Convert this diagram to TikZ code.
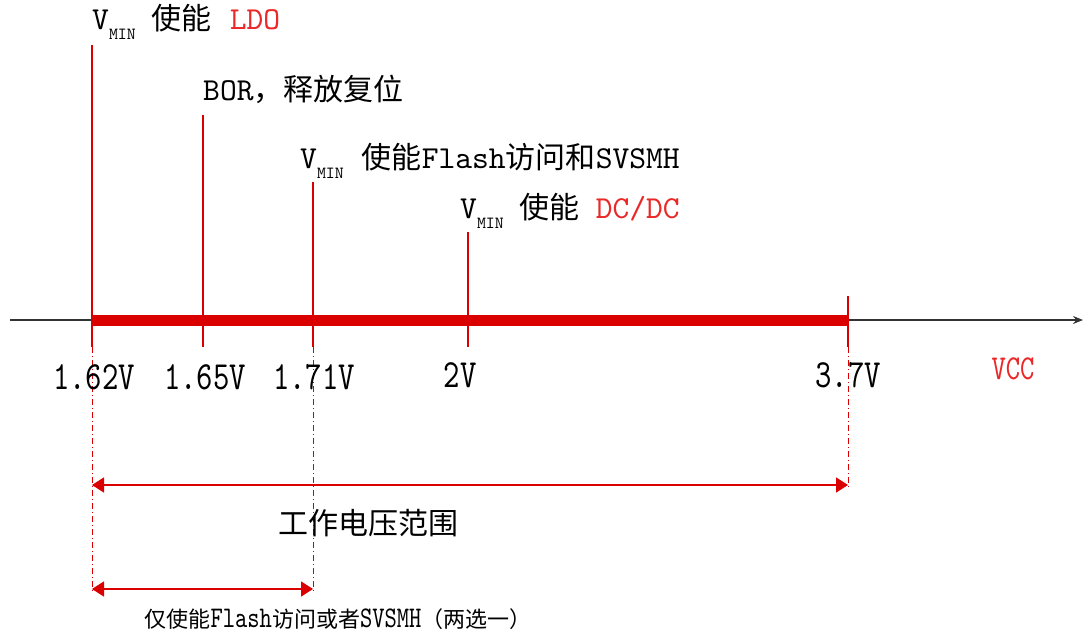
\documentclass[tikz,border=0pt]{standalone}
\usepackage{fontspec}
\setmainfont{lmmono10-regular.otf}
\newfontfamily\narrowfont{lmmono10-regular.otf}[FakeStretch=0.78]
\newfontfamily\cjk{Noto Sans CJK SC}
\usetikzlibrary{arrows.meta}

\definecolor{barred}{RGB}{218,0,0}
\definecolor{txtred}{RGB}{235,40,40}
\newcommand{\vminlabel}{V\raisebox{-10pt}{\fontsize{17}{17}\selectfont MIN}}

\tikzset{
  tickline/.style={barred, line width=2pt},
  guideline/.style={barred, line width=1pt, dash pattern=on 6pt off 3pt on 1pt off 3pt},
  rangearrow/.style={barred, line width=1.6pt,
    {Triangle[length=12pt,width=15pt]}-{Triangle[length=12pt,width=15pt]}},
  toplabel/.style={anchor=base west, inner sep=0pt, font=\fontsize{32}{36}\selectfont},
  vlabel/.style={anchor=base, inner sep=0pt, font=\narrowfont\fontsize{40}{46}\selectfont},
}

\begin{document}
\begin{tikzpicture}[x=1pt,y=-1pt]
\useasboundingbox (0,0) rectangle (1083,634);

% axis
\coordinate (axstart) at (10,320);
\coordinate (axend) at (1083,320);
\coordinate (v162) at (92,320);
\coordinate (v37) at (848,320);
\draw[black!80, line width=2pt, -{Stealth[length=10pt,width=8pt]}] (axstart) -- (axend);
\draw[barred, line width=11pt] (v162) -- (v37);

% ticks
\draw[tickline] (92,45) -- (92,347);
\draw[tickline] (203,115) -- (203,347);
\draw[tickline] (313,182) -- (313,347);
\draw[tickline] (468,232) -- (468,347);
\draw[tickline] (848,296) -- (848,347);

% guides
\draw[guideline] (92,347) -- (92,592);
\draw[guideline] (313,347) -- (313,592);
\draw[guideline] (848,347) -- (848,487);

% labels above
\node[toplabel] (ldo) at (92,30) {\vminlabel\hspace{16pt}{\cjk\fontsize{30}{36}\selectfont 使能}\hspace{18pt}\textcolor{txtred}{LDO}};
\node[toplabel] (bor) at (203,100) {BOR{\cjk\fontsize{30}{36}\selectfont ，释放复位}};
\node[toplabel] (flash) at (300,168) {\vminlabel\hspace{18pt}{\cjk\fontsize{30}{36}\selectfont 使能}Flash{\cjk\fontsize{30}{36}\selectfont 访问和}SVSMH};
\node[toplabel] (dcdc) at (460,218) {\vminlabel\hspace{16pt}{\cjk\fontsize{30}{36}\selectfont 使能}\hspace{16pt}\textcolor{txtred}{DC/DC}};

% voltages
\node[vlabel] (t162) at (94,389) {1.62V};
\node[vlabel] (t165) at (205,389) {1.65V};
\node[vlabel] (t171) at (314,389) {1.71V};
\node[vlabel] (t2) at (460,387) {2V};
\node[vlabel] (t37) at (848,387) {3.7V};
\node[vlabel, txtred, font=\narrowfont\fontsize{35}{40}\selectfont] (vcc) at (1013,379) {VCC};

% ranges
\coordinate (w1) at (92,485);
\coordinate (w2) at (848,485);
\draw[rangearrow] (w1) -- (w2);
\node[font=\cjk\fontsize{30}{36}\selectfont] (work) at (368,523) {工作电压范围};

\coordinate (f1) at (92,589);
\coordinate (f2) at (313,589);
\draw[rangearrow] (f1) -- (f2);
\node[anchor=base, inner sep=0pt, font=\narrowfont\fontsize{30}{30}\selectfont] (only) at (338,627)
  {{\cjk\fontsize{22}{26}\selectfont 仅使能}Flash{\cjk\fontsize{22}{26}\selectfont 访问或者}SVSMH{\cjk\fontsize{22}{26}\selectfont （两选一）}};
\end{tikzpicture}
\end{document}
